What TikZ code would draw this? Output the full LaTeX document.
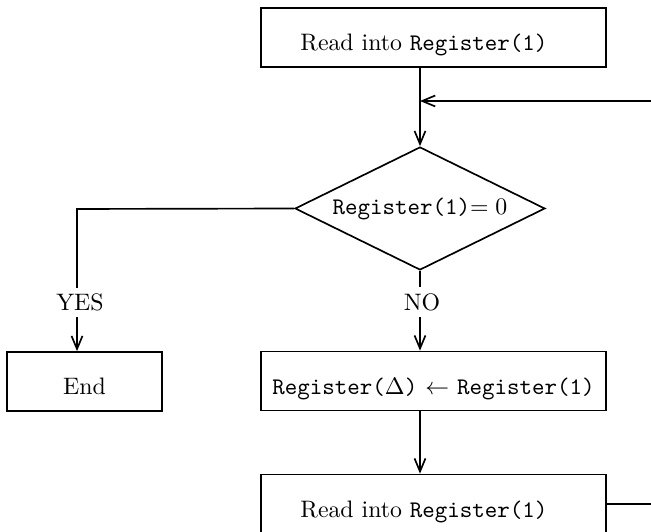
\documentclass[tikz,border=0pt]{standalone}
\usetikzlibrary{shapes.geometric,arrows.meta}
\begin{document}
\begin{tikzpicture}[x=0.42pt,y=-0.42pt,
  line width=0.7pt,
  flow/.style={-{Straight Barb[length=5.5pt,width=4.6pt,line width=0.7pt]}},
  stepbox/.style={draw,rectangle,inner sep=0pt,minimum height=59*0.42pt,
    text height=11pt,text depth=0pt},
  test/.style={draw,diamond,inner sep=0pt,shape aspect=2.03,
    minimum width=250*0.42pt,minimum height=123*0.42pt},
  tag/.style={fill=white,inner sep=2.5pt}]
\useasboundingbox (0,0) rectangle (651,532);
\clip (0,0) rectangle (651,532);

% boxes and the test (the read steps set their text a little left of centre)
\node[stepbox,minimum width=345*0.42pt] (read1) at (433.5,37.5) {Read into \texttt{Register(1)}\hspace*{8pt}};
\node[test] (zero) at (420,208.5) {\texttt{Register(1)}$=0$};
\node[stepbox,minimum width=155*0.42pt] (end) at (84.5,381.5) {End};
\node[stepbox,minimum width=345*0.42pt] (copy) at (433.5,381) {\texttt{Register($\Delta$)} $\leftarrow$ \texttt{Register(1)}};
\node[stepbox,minimum width=345*0.42pt] (read2) at (433.5,504) {Read into \texttt{Register(1)}\hspace*{8pt}};

% helper points
\coordinate (join) at (420,101);
\coordinate (yturn) at (77,209);
\coordinate (back) at (670,504);

% connectors
\draw[flow] (zero.north |- read1.south) -- (zero.north);
\draw[flow] (zero.west) -- (yturn) -- (yturn |- end.north);
\draw[flow] (zero.south) -- (zero.south |- copy.north);
\draw[flow] (zero.south |- copy.south) -- (zero.south |- read2.north);
\draw[flow] (read2.east) -- (back) |- (join);

% branch labels
\node[tag] (yes) at (80,302.5) {YES};
\node[tag] (no) at (422,302) {NO};
\end{tikzpicture}
\end{document}
